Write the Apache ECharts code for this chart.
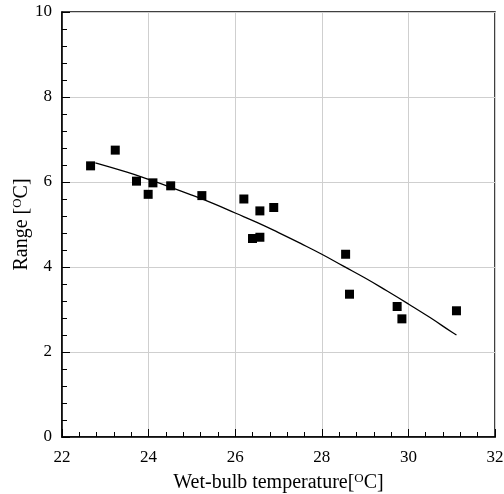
<!DOCTYPE html>
<html>
<head>
<meta charset="utf-8" />
<script src="https://cdn.jsdelivr.net/npm/echarts@6/dist/echarts.min.js"></script>
<style>
  html, body { margin: 0; padding: 0; background: #fff; }
  #chart { width: 504px; height: 494px; }
</style>
</head>
<body>
<div id="chart"></div>
<script>
// measured points
const wetBulb = [22.66, 23.23, 23.72, 23.99, 24.10, 24.51, 25.23, 26.20, 26.57, 26.89, 26.40, 26.57, 28.55, 28.64, 29.74, 29.85, 31.11]
const rangeVals = [6.38, 6.75, 6.02, 5.71, 5.98, 5.91, 5.68, 5.60, 5.32, 5.40, 4.67, 4.70, 4.30, 3.36, 3.07, 2.78, 2.97]

// fitted curve
const fitX = [22.77, 23.5, 24, 24.5, 25, 25.5, 26, 26.5, 27, 27.5, 28, 28.5, 29, 29.5, 30, 30.5, 31, 31.11]
const fitY = [6.45, 6.23, 6.06, 5.88, 5.69, 5.49, 5.27, 5.05, 4.81, 4.56, 4.30, 4.02, 3.74, 3.44, 3.13, 2.81, 2.47, 2.40]

const font = 'Liberation Serif'

const chart = echarts.init(document.getElementById('chart'), null, { renderer: 'canvas' })

const nameStyle = {
  color: '#000',
  fontSize: 20,
  fontFamily: font,
  rich: { sup: { fontSize: 13, verticalAlign: 'top', padding: [0, 0, 9, 0], fontFamily: font } },
}

chart.setOption({
  animation: false,
  textStyle: { fontFamily: font },
  grid: {
    left: 62,
    right: 9,
    top: 12,
    bottom: 57,
    outerBoundsMode: 'none',
    containLabel: false,
    show: true,
    borderColor: '#000',
    borderWidth: 1.5,
    backgroundColor: 'transparent',
  },
  xAxis: {
    type: 'value',
    min: 22,
    max: 32,
    interval: 2,
    name: 'Wet-bulb temperature[{sup|O}C]',
    nameLocation: 'middle',
    nameGap: 35,
    nameMoveOverlap: false,
    nameTextStyle: nameStyle,
    axisLine: { lineStyle: { color: '#000', width: 1.5 } },
    axisTick: { inside: true, length: 8, lineStyle: { color: '#000' } },
    minorTick: { show: true, splitNumber: 5, length: 5, lineStyle: { color: '#000' } },
    axisLabel: { color: '#000', fontSize: 17, margin: 12, fontFamily: font },
    splitLine: { show: true, lineStyle: { color: '#cfcfcf', width: 1 } },
  },
  yAxis: {
    type: 'value',
    min: 0,
    max: 10,
    interval: 2,
    name: 'Range [{sup|O}C]',
    nameLocation: 'middle',
    nameGap: 29,
    nameMoveOverlap: false,
    nameTextStyle: nameStyle,
    axisLine: { lineStyle: { color: '#000', width: 1.5 } },
    axisTick: { inside: true, length: 8, lineStyle: { color: '#000' } },
    minorTick: { show: true, splitNumber: 5, length: 5, lineStyle: { color: '#000' } },
    axisLabel: { color: '#000', fontSize: 17, margin: 10, fontFamily: font },
    splitLine: { show: true, lineStyle: { color: '#cfcfcf', width: 1 } },
  },
  series: [
    {
      name: 'fit',
      type: 'line',
      data: fitX.map((x, i) => [x, fitY[i]]),
      smooth: true,
      showSymbol: false,
      lineStyle: { color: '#000', width: 1.3 },
      z: 2,
    },
    {
      name: 'measured',
      type: 'scatter',
      data: wetBulb.map((x, i) => [x, rangeVals[i]]),
      symbol: 'rect',
      symbolSize: 9,
      itemStyle: { color: '#000', opacity: 1 },
      z: 3,
    },
  ],
})
</script>
</body>
</html>
